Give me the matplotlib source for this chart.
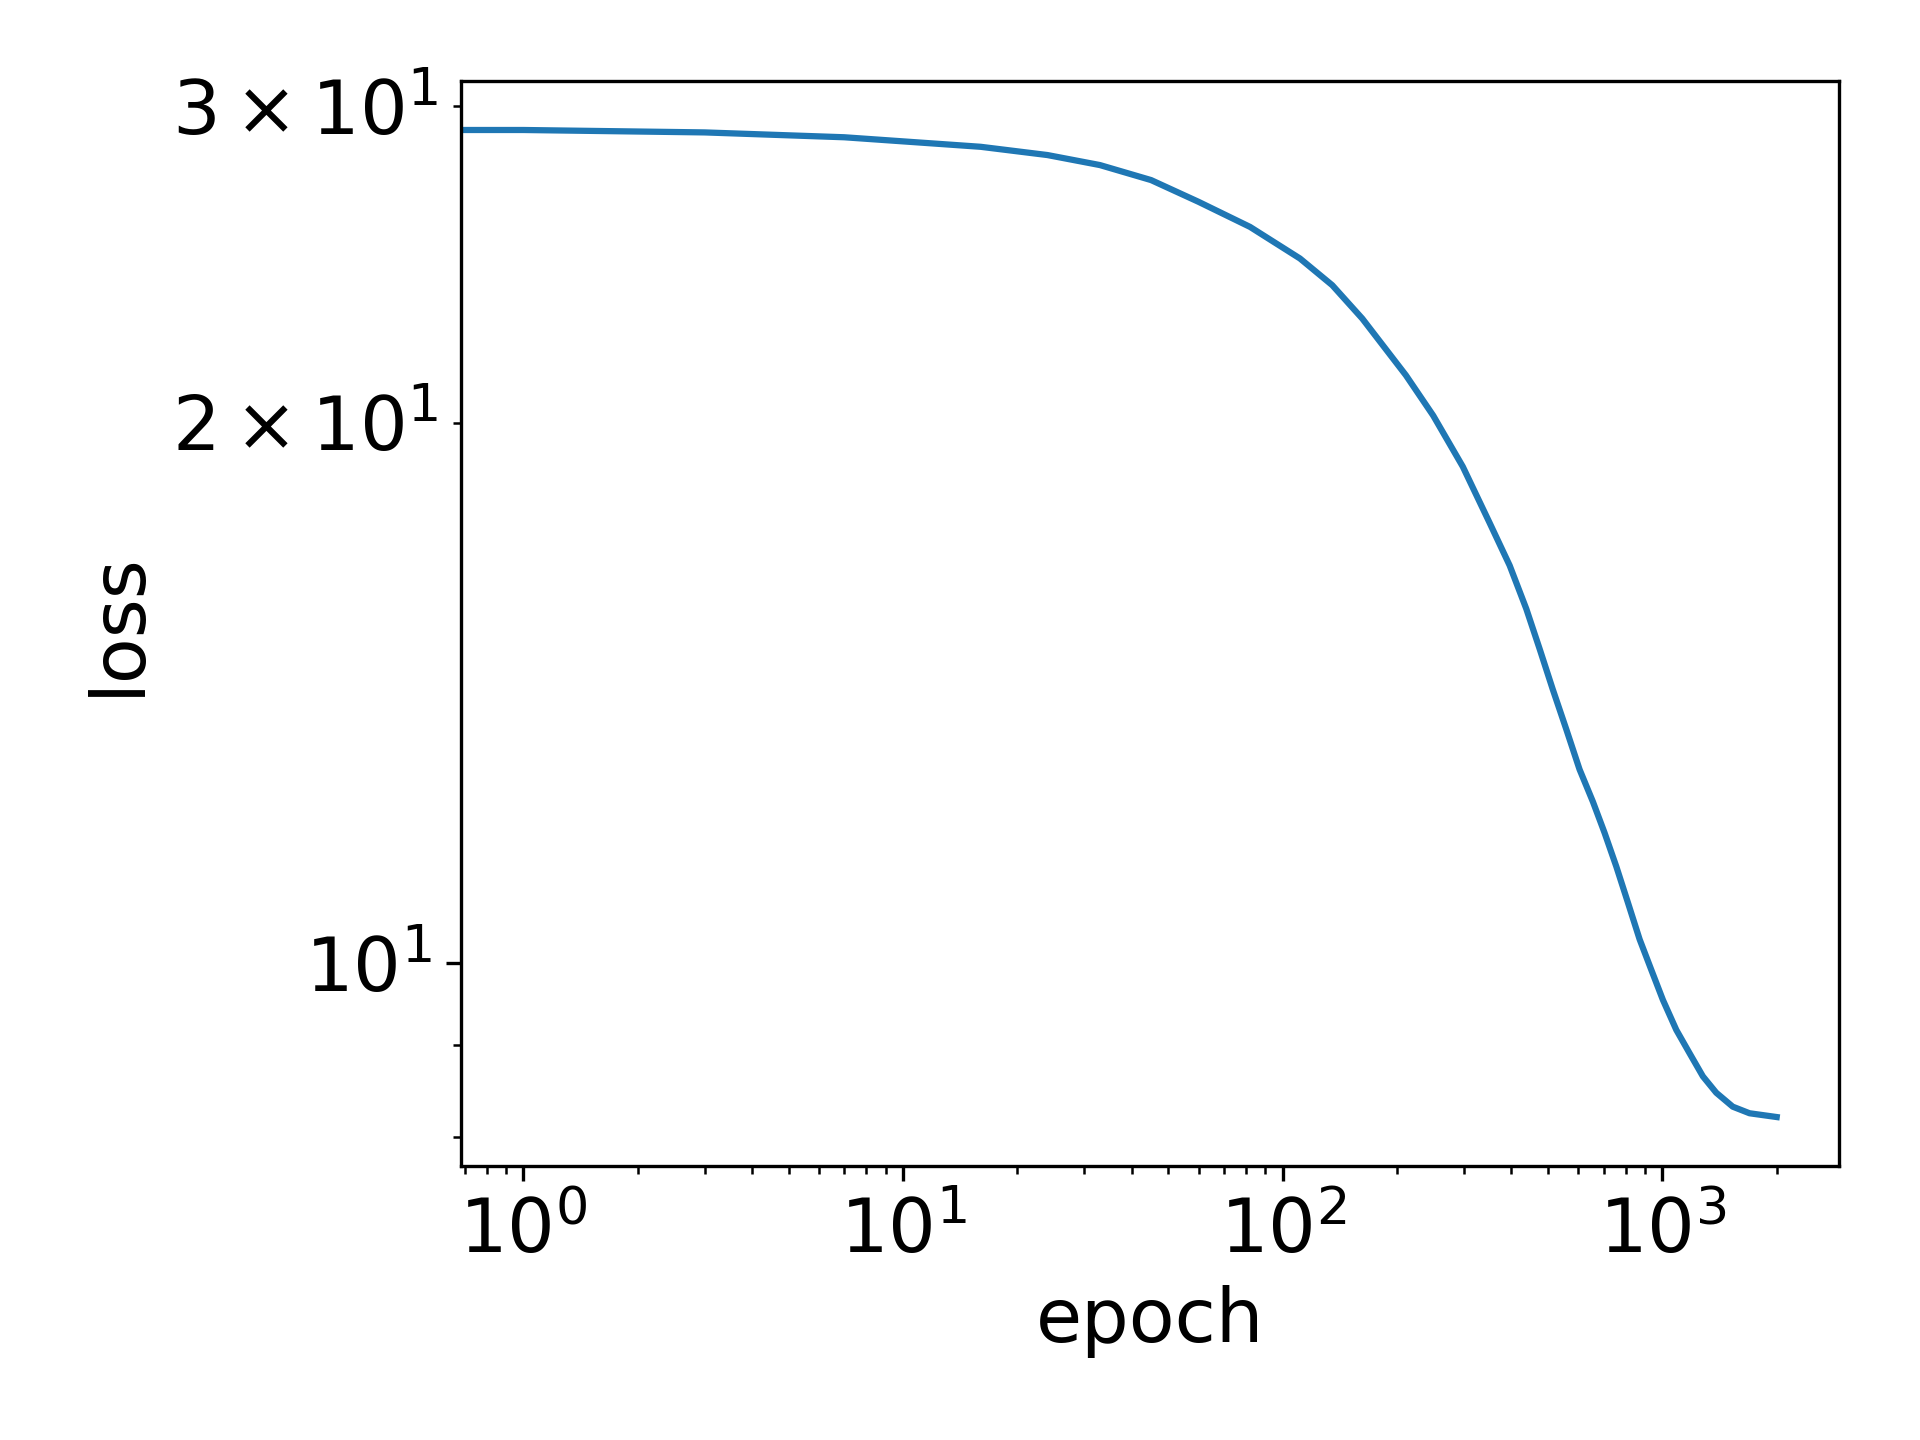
import numpy as np
import matplotlib
matplotlib.use("Agg")
from matplotlib import pyplot as plt

# loss values (epoch 0 gets clipped on the log axis)
epochs = [0, 1, 3, 7, 16, 24, 33, 45, 60, 82, 111, 135, 162, 211, 249, 298,
          350, 396, 438, 475, 514, 558, 605, 656, 704, 756, 811, 871, 934,
          1003, 1088, 1179, 1278, 1386, 1532, 1696, 2000]
loss = [29.10, 29.10, 29.01, 28.83, 28.48, 28.18, 27.82, 27.29, 26.54, 25.70,
        24.68, 23.85, 22.85, 21.25, 20.18, 18.90, 17.60, 16.65, 15.75, 14.96,
        14.21, 13.50, 12.82, 12.30, 11.82, 11.32, 10.81, 10.31, 9.92, 9.54,
        9.18, 8.91, 8.65, 8.47, 8.32, 8.25, 8.21]

plt.rcParams['font.size'] = 18

fig = plt.figure(figsize=(6.4, 4.8), dpi=300)
ax = fig.add_subplot(111)
ax.plot(epochs, loss)
ax.set_xscale('log')
ax.set_yscale('log')
ax.set_xlabel('epoch')
ax.set_ylabel('loss')
fig.subplots_adjust(left=0.240, right=0.958, bottom=0.190, top=0.944)
fig.savefig('out.png', dpi=300)
